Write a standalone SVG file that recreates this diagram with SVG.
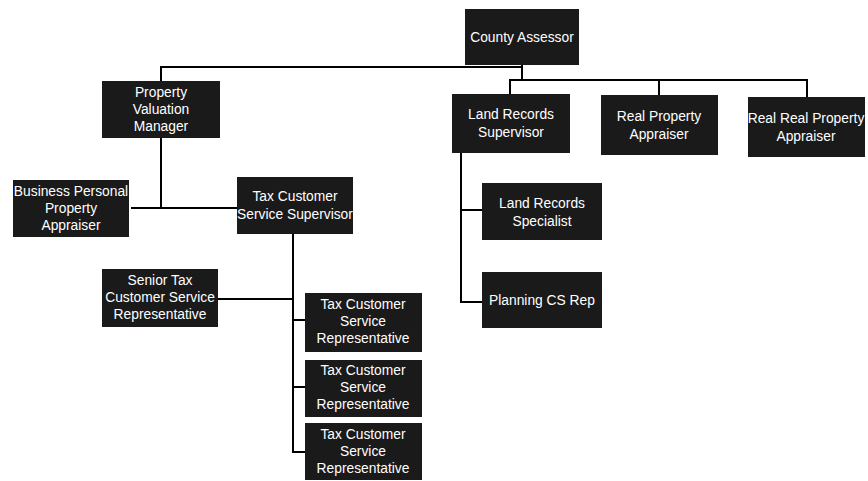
<svg xmlns="http://www.w3.org/2000/svg" width="868" height="481" viewBox="0 0 868 481">
  <style>
    .box { fill: #1a1a1a; }
    .lbl { fill: #ffffff; font-family: "Liberation Sans", Arial, sans-serif; font-size: 13.8px; text-anchor: middle; }
    .wire { fill: none; stroke: #000000; stroke-width: 2; }
  </style>
  <rect width="868" height="481" fill="#ffffff"/>

  <!-- connectors -->
  <g id="connectors">
    <path class="wire" d="M522 64 V67 H161 V81"/>
    <path class="wire" d="M522 67 V80"/>
    <path class="wire" d="M510 94 V80 H807 V97"/>
    <path class="wire" d="M659 80 V95"/>
    <path class="wire" d="M161 138 V208"/>
    <path class="wire" d="M131 208 H237"/>
    <path class="wire" d="M461 153 V302 H482"/>
    <path class="wire" d="M461 210 H482"/>
    <path class="wire" d="M293 234 V452 H305"/>
    <path class="wire" d="M218 299 H293"/>
    <path class="wire" d="M293 320 H305"/>
    <path class="wire" d="M293 387 H305"/>
  </g>

  <g id="county-assessor">
    <rect class="box" x="465" y="9" width="114" height="56"/>
    <text class="lbl" x="522" y="42">County Assessor</text>
  </g>

  <g id="property-valuation-manager">
    <rect class="box" x="102" y="81" width="118" height="57"/>
    <text class="lbl" x="161" y="97">Property</text>
    <text class="lbl" x="161" y="114">Valuation</text>
    <text class="lbl" x="161" y="131">Manager</text>
  </g>

  <g id="land-records-supervisor">
    <rect class="box" x="452" y="94" width="118" height="59"/>
    <text class="lbl" x="511" y="119">Land Records</text>
    <text class="lbl" x="511" y="137">Supervisor</text>
  </g>

  <g id="real-property-appraiser">
    <rect class="box" x="601" y="95" width="117" height="60"/>
    <text class="lbl" x="659" y="121">Real Property</text>
    <text class="lbl" x="659" y="139">Appraiser</text>
  </g>

  <g id="real-real-property-appraiser">
    <rect class="box" x="748" y="97" width="117" height="60"/>
    <text class="lbl" x="806" y="123">Real Real Property</text>
    <text class="lbl" x="806" y="141">Appraiser</text>
  </g>

  <g id="business-personal-property-appraiser">
    <rect class="box" x="13" y="180" width="116" height="57"/>
    <text class="lbl" x="71" y="196">Business Personal</text>
    <text class="lbl" x="71" y="213">Property</text>
    <text class="lbl" x="71" y="230">Appraiser</text>
  </g>

  <g id="tax-customer-service-supervisor">
    <rect class="box" x="237" y="177" width="116" height="57"/>
    <text class="lbl" x="295" y="201">Tax Customer</text>
    <text class="lbl" x="295" y="219">Service Supervisor</text>
  </g>

  <g id="land-records-specialist">
    <rect class="box" x="482" y="183" width="120" height="57"/>
    <text class="lbl" x="542" y="208">Land Records</text>
    <text class="lbl" x="542" y="226">Specialist</text>
  </g>

  <g id="planning-cs-rep">
    <rect class="box" x="482" y="272" width="120" height="56"/>
    <text class="lbl" x="542" y="305">Planning CS Rep</text>
  </g>

  <g id="senior-tax-csr">
    <rect class="box" x="102" y="269" width="116" height="58"/>
    <text class="lbl" x="160" y="285">Senior Tax</text>
    <text class="lbl" x="160" y="302">Customer Service</text>
    <text class="lbl" x="160" y="319">Representative</text>
  </g>

  <g id="tax-csr-1">
    <rect class="box" x="305" y="293" width="117" height="59"/>
    <text class="lbl" x="363" y="309">Tax Customer</text>
    <text class="lbl" x="363" y="326">Service</text>
    <text class="lbl" x="363" y="343">Representative</text>
  </g>

  <g id="tax-csr-2">
    <rect class="box" x="305" y="360" width="117" height="57"/>
    <text class="lbl" x="363" y="375">Tax Customer</text>
    <text class="lbl" x="363" y="392">Service</text>
    <text class="lbl" x="363" y="409">Representative</text>
  </g>

  <g id="tax-csr-3">
    <rect class="box" x="305" y="423" width="117" height="57"/>
    <text class="lbl" x="363" y="439">Tax Customer</text>
    <text class="lbl" x="363" y="456">Service</text>
    <text class="lbl" x="363" y="473">Representative</text>
  </g>
</svg>
